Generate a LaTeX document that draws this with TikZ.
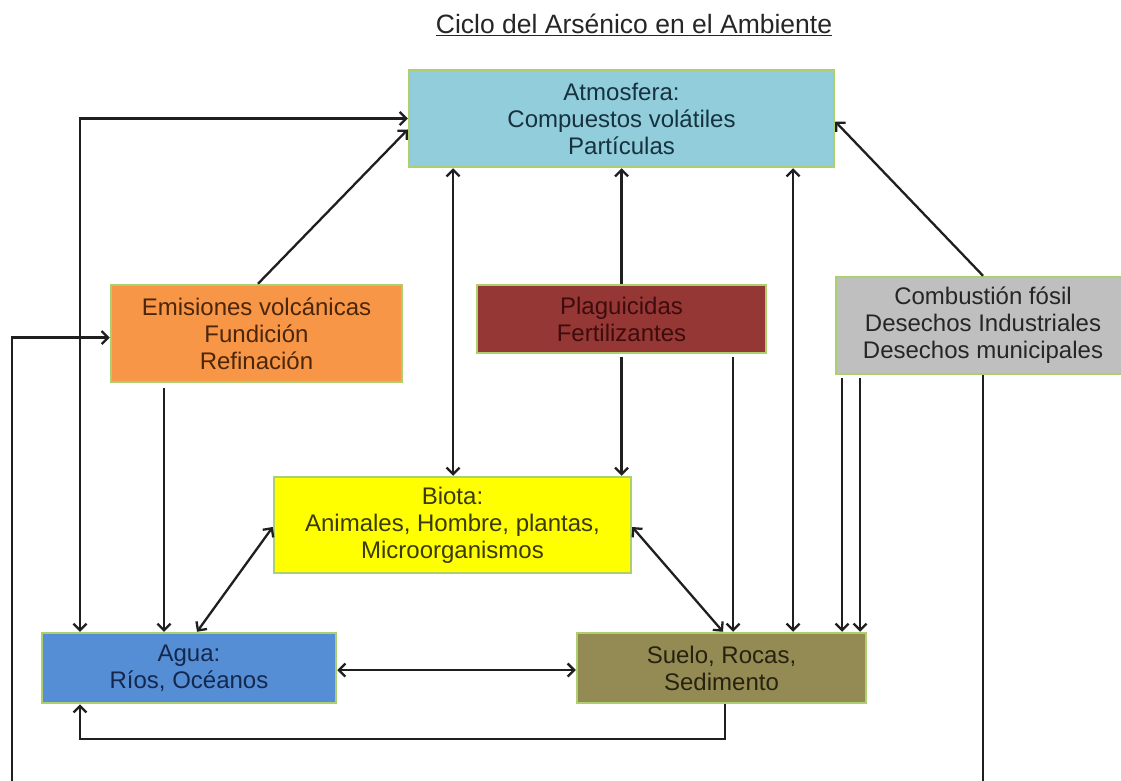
\documentclass[tikz,border=0pt]{standalone}
\usepackage{fontspec}
\setmainfont{Liberation Sans}
\usetikzlibrary{arrows.meta,calc}
\definecolor{bordergreen}{RGB}{172,208,112}
\definecolor{atmfill}{RGB}{146,205,220}
\definecolor{atmtext}{RGB}{22,50,62}
\definecolor{emifill}{RGB}{247,150,70}
\definecolor{emitext}{RGB}{75,38,10}
\definecolor{plafill}{RGB}{149,55,53}
\definecolor{platext}{RGB}{62,12,12}
\definecolor{comfill}{RGB}{191,191,191}
\definecolor{comtext}{RGB}{38,38,38}
\definecolor{biofill}{RGB}{255,255,0}
\definecolor{biotext}{RGB}{58,58,8}
\definecolor{agufill}{RGB}{85,142,213}
\definecolor{agutext}{RGB}{20,40,78}
\definecolor{suefill}{RGB}{148,138,84}
\definecolor{suetext}{RGB}{38,34,14}
\begin{document}
\begin{tikzpicture}[x=1pt,y=-1pt,
  box/.style={draw=bordergreen, line width=2.5pt, inner sep=0pt, align=center,
    font=\fontsize{24}{27}\selectfont},
  conn/.style={line width=2.3pt, draw=black!88},
  >={Straight Barb[length=6.5pt,width=13pt,line width=2.3pt]}]
\useasboundingbox (0,0) rectangle (1121,781);
\fill[white] (0,0) rectangle (1121,781);
\clip (0,0) rectangle (1121,781);

% title
\node[font=\fontsize{26.5}{29}\selectfont, text=black!85] (title) at (634,25)
  {\underline{Ciclo del Arsénico en el Ambiente}};

% boxes
\node[box, fill=atmfill, text=atmtext, minimum width=425pt, minimum height=97pt]
  (atm) at (621.5,118.5) {Atmosfera:\\Compuestos volátiles\\Partículas};
\node[box, fill=emifill, text=emitext, minimum width=291pt, minimum height=97pt]
  (emi) at (256.5,333.5) {Emisiones volcánicas\\Fundición\\Refinación};
\node[box, fill=plafill, text=platext, minimum width=289pt, minimum height=68pt]
  (pla) at (621.5,319) {Plaguicidas\\Fertilizantes};
\node[box, fill=comfill, text=comtext, minimum width=294pt, minimum height=97pt]
  (com) at (983,325.5) {Combustión fósil\\Desechos Industriales\\Desechos municipales};
\node[box, fill=biofill, text=biotext, minimum width=357pt, minimum height=96pt]
  (bio) at (452.5,525) {Biota:\\Animales, Hombre, plantas,\\Microorganismos};
\node[box, fill=agufill, text=agutext, minimum width=294pt, minimum height=70pt]
  (agu) at (189,668) {Agua:\\Ríos, Océanos};
\node[box, fill=suefill, text=suetext, minimum width=289pt, minimum height=70pt]
  (sue) at (721.5,668) {Suelo, Rocas,\\Sedimento};

% helper coordinates
\coordinate (X12) at (12,0);
\coordinate (X80) at (80,0);
\coordinate (X164) at (164,0);
\coordinate (X197) at (197,0);
\coordinate (X453) at (453,0);
\coordinate (X723) at (723,0);
\coordinate (X725) at (725,0);
\coordinate (X733) at (733,0);
\coordinate (X793) at (793,0);
\coordinate (X842) at (842,0);
\coordinate (X860) at (860,0);
\coordinate (B) at (0,820);
\coordinate (E) at ($(emi.west)+(0,4)$);

% connectors
\draw[conn,<->] (agu.north -| X80) |- (atm.west);
\draw[conn,->] ([xshift=1.5pt]emi.north) -- ($(atm.west)+(0,11)$);
\draw[conn,->] (com.south) -- (com.south |- B) -| (X12 |- E) -- (E);
\draw[conn,->] ($(emi.south -| X164)+(0,5)$) -- (agu.north -| X164);
\draw[conn,<->] ($(bio.west)+(0,2)$) -- (agu.north -| X197);
\draw[conn,<->] ($(bio.east)+(0,2)$) -- (sue.north -| X723);
\draw[conn,<->] ($(agu.east)+(0,2)$) -- ($(sue.west)+(0,2)$);
\draw[conn,->] (sue.south -| X725) -- ++(0,35) -| (agu.south -| X80);
\draw[conn,<->] (atm.south -| X453) -- (bio.north -| X453);
\draw[conn,->] (pla.north) -- (atm.south -| pla.north);
\draw[conn,->] ($(pla.south)+(0,3)$) -- (bio.north -| pla.south);
\draw[conn,->] ($(pla.south -| X733)+(0,3)$) -- (sue.north -| X733);
\draw[conn,<->] (atm.south -| X793) -- (sue.north -| X793);
\draw[conn,->] (com.north) -- ($(atm.east)+(0,3)$);
\draw[conn,->] ($(com.south -| X842)+(0,3)$) -- (sue.north -| X842);
\draw[conn,->] ($(com.south -| X860)+(0,3)$) -- (sue.north -| X860);
\end{tikzpicture}
\end{document}
